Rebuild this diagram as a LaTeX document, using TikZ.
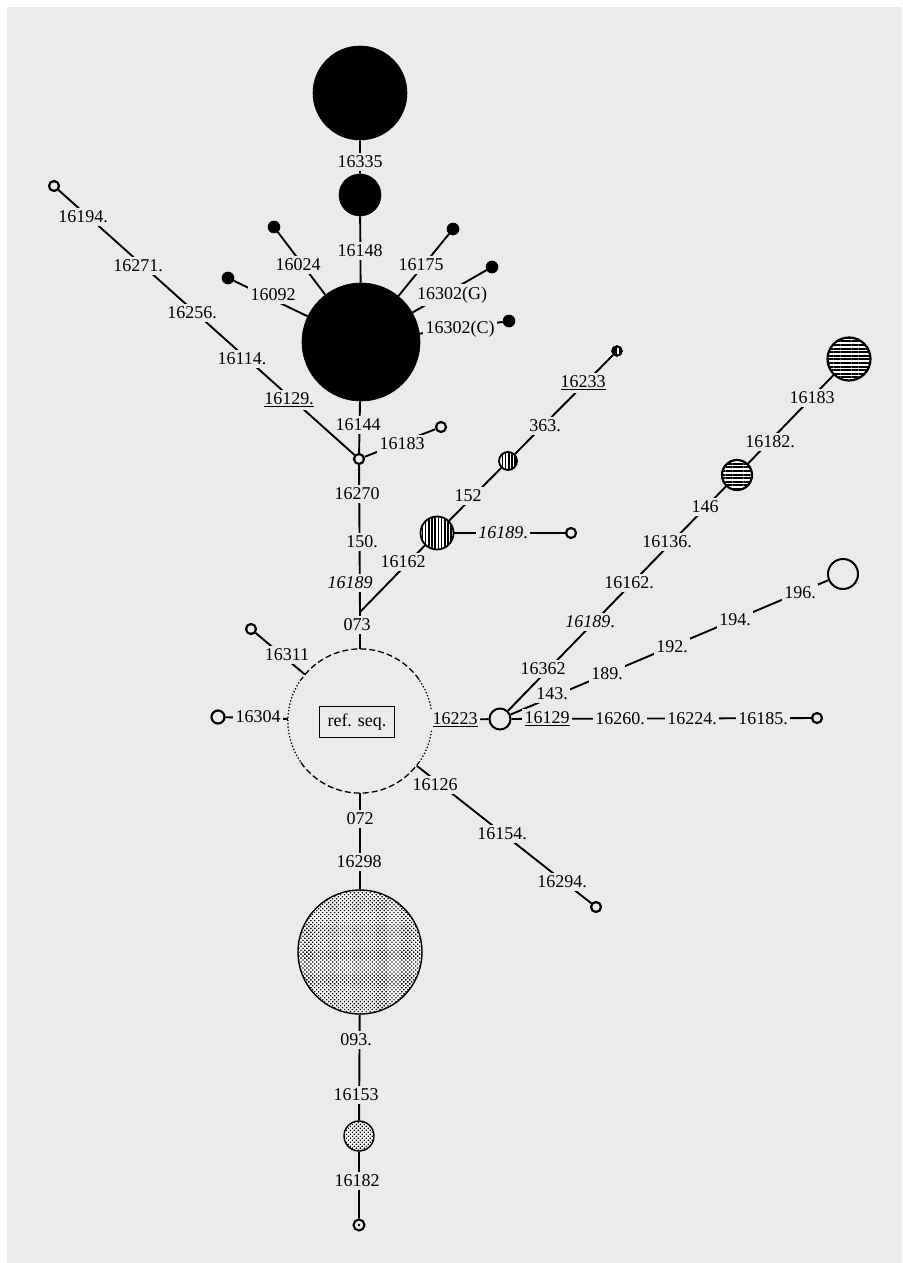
\documentclass[tikz,border=0pt]{standalone}
\usepackage{fontspec}
\setmainfont{Liberation Serif}
\usetikzlibrary{patterns.meta}
\definecolor{bg}{HTML}{EBEBEB}
\begin{document}
\begin{tikzpicture}[x=1pt,y=-1pt,
  ln/.style={line width=1.9pt},
  lab/.style={fill=bg, inner sep=2.5pt, font=\fontsize{18}{20}\selectfont},
  blkc/.style={circle, fill=black, draw=black, line width=0.6pt, inner sep=0pt, minimum size=#1},
  opnc/.style={circle, fill=bg, draw=black, line width=2.2pt, inner sep=0pt, minimum size=#1},
  vhatch/.style={circle, draw=black, line width=1.8pt, inner sep=0pt, minimum size=#1,
     preaction={fill=white}, pattern={Lines[angle=90,distance=3.2pt,line width=1.7pt]}},
  hhatch/.style={circle, draw=black, line width=2.2pt, inner sep=0pt, minimum size=#1,
     preaction={fill=white}, pattern={Lines[angle=0,distance=3.6pt,line width=2pt]}},
  dotc/.style={circle, draw=black, line width=1.4pt, inner sep=0pt, minimum size=#1,
     preaction={fill=white}, pattern={Dots[angle=45,distance=2.8pt,radius=0.95pt]}}
]
\useasboundingbox (0,0) rectangle (902,1263);
\fill[white] (0,0) rectangle (902,1263);
\fill[bg] (7,7) rectangle (902,1263);

% ---------- circles ----------
\node[blkc=94pt] (T1) at (360,93) {};
\node[blkc=42pt] (T2) at (360,195) {};
\node[blkc=118pt] (H) at (361,342) {};
\node[blkc=12pt] (d1) at (274,227) {};
\node[blkc=12pt] (d2) at (228,278) {};
\node[blkc=12pt] (d3) at (453,229) {};
\node[blkc=12pt] (d4) at (492,267) {};
\node[blkc=12pt] (d5) at (509,321) {};
\node[opnc=10pt] (J) at (359,459) {};
\node[opnc=10pt] (o16183) at (441,427) {};
\node[opnc=10pt] (o16194) at (54,186) {};
\node[vhatch=33pt] (V1) at (437,533) {};
\node[opnc=10pt] (o16189) at (571,533) {};
\node[vhatch=18pt] (V2) at (508,461) {};
\node[blkc=11pt] (V3) at (617,351) {};
\draw[white, line width=1.2pt] ([shift={(1pt,-2.5pt)}]V3.north) -- ([shift={(1pt,2.5pt)}]V3.south);
\node[circle, inner sep=0pt, minimum size=144pt] (ref) at (360,721) {};
\node[opnc=10pt] (o16311) at (251,629) {};
\node[opnc=13pt] (o16304) at (218,717) {};
\node[opnc=21pt, line width=2pt] (R) at (500,719) {};
\node[opnc=10pt] (o16294) at (596,907) {};
\node[hhatch=30pt] (H1) at (737,475) {};
\node[hhatch=43pt] (H2) at (849,359) {};
\node[opnc=30pt, line width=2pt] (O196) at (843,574) {};
\node[opnc=10pt] (o16185) at (817,718) {};
\node[dotc=124pt] (D1) at (360,952) {};
\node[dotc=30pt] (D2) at (359,1136) {};
\node[opnc=11pt, line width=2pt] (B) at (359,1225) {};
\fill (B) circle (1.3pt);
\coordinate (K) at (360,612);

% reference circle outline
\draw[line width=1.3pt, dash pattern=on 6pt off 3pt] (ref.35) arc[start angle=35, end angle=145, radius=72pt];
\draw[line width=1.3pt, dash pattern=on 1.3pt off 2pt] (ref.145) arc[start angle=145, end angle=215, radius=72pt];
\draw[line width=1.3pt, dash pattern=on 6pt off 3pt] (ref.215) arc[start angle=215, end angle=325, radius=72pt];
\draw[line width=1.3pt, dash pattern=on 1.3pt off 2pt] (ref.325) arc[start angle=325, end angle=395, radius=72pt];
\node[draw, line width=1.5pt, inner sep=0pt, minimum width=75pt, minimum height=31pt,
  font=\fontsize{18}{20}\selectfont] (rs) at (357,722) {ref. seq.};

% ---------- connectors ----------
\draw[ln] (T1) -- (T2) -- (H);
\draw[ln] (H) -- (d1);
\draw[ln] (H) -- (d2);
\draw[ln] (H) -- (d3);
\draw[ln] (H) -- (d4);
\draw[ln] (H) -- (d5);
\draw[ln] (H) -- (J);
\draw[ln] (J) -- (o16183);
\draw[ln] (J) -- (o16194);
\draw[ln] (J) -- (K) -- (ref);
\draw[ln] (K) -- (V1);
\draw[ln] (V1) -- (o16189);
\draw[ln] (V1) -- (V2) -- (V3);
\draw[ln] (ref) -- (o16311);
\draw[ln] (ref) -- (o16304);
\draw[ln] (ref) -- (R);
\draw[ln] (ref) -- (o16294);
\draw[ln] (ref) -- (D1) -- (D2) -- (B);
\draw[ln] (R) -- (H1) -- (H2);
\draw[ln] (R) -- (O196);
\draw[ln] (R) -- (o16185);

% ---------- labels ----------
\node[lab] (l1) at (360,162) {16335};
\node[lab] (l2) at (360,251) {16148};
\node[lab] (l3) at (298,265) {16024};
\node[lab] (l4) at (273,295) {16092};
\node[lab] (l5) at (421,265) {16175};
\node[lab] (l6) at (452,295) {16302(G)};
\node[lab] (l7) at (460,329) {16302(C)};
\node[lab] (l8) at (358,425) {16144};
\node[lab] (l9) at (402,444) {16183};
\node[lab] (l10) at (357,494) {16270};
\node[lab] (l11) at (362,542) {150.};
\node[lab] (l12) at (350,583) {\textit{16189}};
\node[lab] (l13) at (357,625) {073};
\node[lab] (l14) at (289,400) {\underline{16129.}};
\node[lab] (l15) at (242,359) {16114.};
\node[lab] (l16) at (192,313) {16256.};
\node[lab] (l17) at (138,266) {16271.};
\node[lab] (l18) at (83,217) {16194.};
\node[lab] (l19) at (403,562) {16162};
\node[lab] (l20) at (503,533) {\textit{16189}.};
\node[lab] (l21) at (468,496) {152};
\node[lab] (l22) at (545,426) {363.};
\node[lab] (l23) at (583,383) {\underline{16233}};
\node[lab] (l24) at (287,655) {16311};
\node[lab] (l25) at (258,717) {16304};
\node[lab] (l26) at (455,720) {\underline{16223}};
\node[lab] (l27) at (435,785) {16126};
\node[lab] (l28) at (502,834) {16154.};
\node[lab] (l29) at (562,882) {16294.};
\node[lab] (l30) at (360,819) {072};
\node[lab] (l31) at (359,862) {16298};
\node[lab] (l32) at (356,1040) {093.};
\node[lab] (l33) at (356,1095) {16153};
\node[lab] (l34) at (357,1181) {16182};
\node[lab] (l35) at (543,669) {16362};
\node[lab] (l36) at (590,622) {\textit{16189}.};
\node[lab] (l37) at (629,583) {16162.};
\node[lab] (l38) at (667,542) {16136.};
\node[lab] (l39) at (705,507) {146};
\node[lab] (l40) at (770,442) {16182.};
\node[lab] (l41) at (812,398) {16183};
\node[lab] (l42) at (552,694) {143.};
\node[lab] (l43) at (607,674) {189.};
\node[lab] (l44) at (672,647) {192.};
\node[lab] (l45) at (735,620) {194.};
\node[lab] (l46) at (800,593) {196.};
\node[lab] (l47) at (547,719) {\underline{16129}};
\node[lab] (l48) at (620,719) {16260.};
\node[lab] (l49) at (692,719) {16224.};
\node[lab] (l50) at (763,719) {16185.};
\end{tikzpicture}
\end{document}
